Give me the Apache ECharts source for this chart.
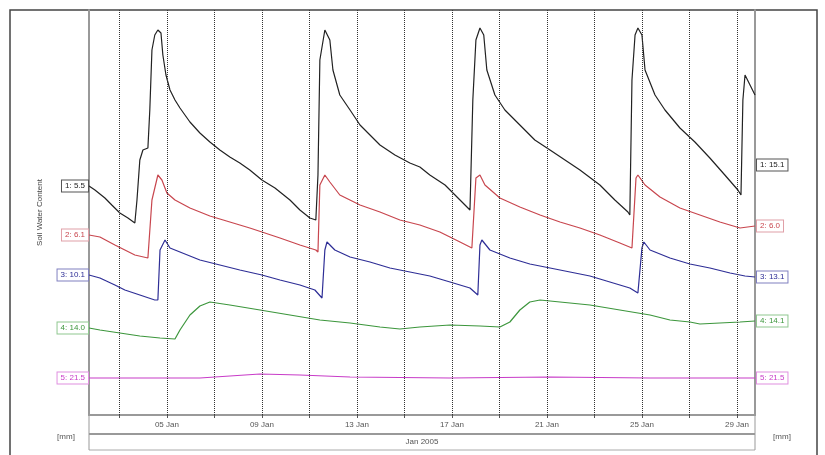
<!DOCTYPE html>
<html><head><meta charset="utf-8">
<script src="https://cdn.jsdelivr.net/npm/echarts@6/dist/echarts.min.js"></script>
<style>html,body{margin:0;padding:0;background:#fff}#c{width:825px;height:455px}</style>
</head><body><div id="c"></div>
<script>
// x = day of January 2005, y = soil water content (relative display units)
const gridDays = [3,5,7,9,11,13,15,17,19,21,23,25,27,29];
const labelDays = [5,9,13,17,21,25,29];
const xMin = 1.72, xMax = 29.76;

const s1 = [[1.72,229],[1.97,225],[2.39,217],[2.68,210],[3.02,202],[3.36,197],[3.65,192],[3.74,215],[3.86,255],[3.99,265],[4.20,267],[4.28,305],[4.37,365],[4.49,380],[4.62,385],[4.75,382],[4.83,360],[4.96,340],[5.13,325],[5.34,315],[5.55,307],[5.97,293],[6.39,282],[6.81,273],[7.23,265],[7.65,258],[8.07,252],[8.49,245],[9.00,235],[9.55,227],[10.18,215],[10.60,205],[11.02,197],[11.27,195],[11.36,240],[11.44,355],[11.65,385],[11.86,375],[11.99,345],[12.28,320],[12.71,305],[13.13,290],[13.55,280],[13.97,270],[14.60,260],[15.23,252],[15.65,248],[16.07,240],[16.71,230],[17.34,215],[17.76,205],[17.84,203],[17.88,315],[18.01,375],[18.18,387],[18.34,380],[18.47,345],[18.81,320],[19.23,305],[19.86,290],[20.49,275],[21.13,265],[21.76,255],[22.39,245],[23.23,230],[23.86,215],[24.41,203],[24.49,200],[24.58,335],[24.71,380],[24.83,387],[25.00,380],[25.13,345],[25.55,320],[25.97,305],[26.60,287],[27.23,273],[27.86,257],[28.49,240],[29.04,225],[29.17,220],[29.25,315],[29.34,340],[29.55,330],[29.76,320]];
const s2 = [[1.72,180],[2.18,178],[2.81,170],[3.23,165],[3.65,160],[4.20,157],[4.28,157],[4.37,215],[4.62,240],[4.79,235],[5.00,222],[5.34,215],[5.97,207],[6.81,199],[7.65,193],[8.49,187],[9.00,183],[9.76,177],[10.60,170],[11.27,165],[11.36,163],[11.44,230],[11.65,240],[11.86,233],[12.28,220],[13.13,210],[13.97,203],[14.81,195],[15.65,190],[16.49,183],[17.34,173],[17.84,167],[18.01,237],[18.18,240],[18.39,230],[19.02,217],[19.86,208],[20.71,200],[21.55,193],[22.39,187],[23.23,180],[24.07,172],[24.58,167],[24.75,237],[24.83,240],[25.13,230],[25.76,218],[26.60,207],[27.44,200],[28.28,193],[29.13,187],[29.76,189]];
const s3 = [[1.72,140],[2.18,137],[2.81,130],[3.23,125],[3.86,120],[4.49,115],[4.62,115],[4.71,165],[4.92,175],[5.13,167],[5.55,163],[6.39,155],[7.23,150],[8.07,145],[9.00,140],[9.76,135],[10.60,130],[11.23,125],[11.53,117],[11.65,165],[11.74,173],[12.07,165],[12.71,158],[13.55,153],[14.39,147],[15.23,143],[16.07,139],[16.92,133],[17.76,127],[18.09,120],[18.18,170],[18.26,175],[18.60,165],[19.44,157],[20.28,151],[21.13,147],[21.97,143],[22.81,139],[23.65,133],[24.49,127],[24.83,122],[25.00,167],[25.08,173],[25.34,165],[26.18,157],[27.02,151],[27.86,147],[28.71,142],[29.34,139],[29.76,138]];
const s4 = [[1.72,87],[2.18,85],[3.02,82],[3.86,79],[4.71,77],[5.34,76],[5.55,85],[5.97,100],[6.39,109],[6.81,113],[7.65,110],[8.92,105],[10.18,100],[11.44,95],[12.71,92],[13.97,88],[14.81,86],[15.65,88],[16.92,90],[18.18,89],[19.02,88],[19.44,93],[19.86,105],[20.28,113],[20.71,115],[21.55,113],[22.81,110],[24.07,105],[25.34,100],[26.18,95],[27.02,93],[27.44,91],[28.28,92],[29.13,93],[29.76,94]];
const s5 = [[1.72,37],[6.39,37],[7.65,39],[8.92,41],[10.60,40],[12.71,38],[16.92,37],[21.13,38],[25.34,37],[29.76,37]];

const seriesData = [s1,s2,s3,s4,s5];
const startLabels = ['1: 5.5','2: 6.1','3: 10.1','4: 14.0','5: 21.5'];
const endLabels = ['1: 15.1','2: 6.0','3: 13.1','4: 14.1','5: 21.5'];
const lineColors = ['#222222','#c8464e','#2e2e96','#3c963c','#c83cc8'];
const boxColors = ['#555555','#e0a0a8','#8080c0','#90c890','#e090e0'];
const endOffsets = [[0,70],[0,0],[0,0],[0,0],[0,0]];

const chart = echarts.init(document.getElementById('c'));

const boxLabel = (i) => ({
  show: true, fontSize: 8, fontFamily: 'Liberation Sans, Arial', color: lineColors[i],
  borderColor: boxColors[i], borderWidth: 1, backgroundColor: '#fff', padding: [2, 3, 1, 3]
});

const series = seriesData.map((d, i) => ({
  type: 'line', data: d, showSymbol: false, symbol: 'none', silent: true,
  lineStyle: { color: lineColors[i], width: 1.2 },
  endLabel: Object.assign(boxLabel(i), { formatter: endLabels[i], distance: 2, offset: endOffsets[i] }),
  markPoint: {
    symbol: 'circle', symbolSize: 0, silent: true,
    data: [{ coord: d[0] }],
    label: Object.assign(boxLabel(i), { position: 'left', distance: 1, formatter: startLabels[i] })
  },
  markLine: i === 4 ? {
    symbol: 'none', silent: true, label: { show: false },
    lineStyle: { type: 'dotted', color: '#333', width: 1 },
    data: gridDays.map(v => ({ xAxis: v }))
  } : undefined,
  z: 3
}));

chart.setOption({
  animation: false,
  backgroundColor: '#fff',
  grid: { left: 89, right: 70, top: 10, bottom: 40 },
  xAxis: {
    type: 'value', min: xMin, max: xMax,
    axisLine: { show: true, lineStyle: { color: '#999', width: 2 } },
    axisTick: { show: true, customValues: gridDays, length: 3, inside: false, lineStyle: { color: '#555' } },
    axisLabel: {
      customValues: labelDays, fontSize: 8, color: '#555', margin: 6,
      fontFamily: 'Liberation Sans, Arial',
      formatter: v => (v < 10 ? '0' : '') + Math.round(v) + ' Jan'
    },
    splitLine: { show: false }
  },
  yAxis: [{
    type: 'value', min: 0, max: 405, position: 'left',
    name: 'Soil Water Content', nameLocation: 'middle', nameGap: 45,
    nameTextStyle: { fontSize: 8, color: '#444', fontFamily: 'Liberation Sans, Arial' },
    axisLine: { show: true, lineStyle: { color: '#999', width: 2 } },
    axisTick: { show: false }, axisLabel: { show: false }, splitLine: { show: false }
  }, {
    type: 'value', min: 0, max: 405, position: 'right',
    axisLine: { show: true, lineStyle: { color: '#999', width: 2 } },
    axisTick: { show: false }, axisLabel: { show: false }, splitLine: { show: false }
  }],
  graphic: [
    { type: 'rect', shape: { x: 10, y: 10, width: 807, height: 470 }, style: { fill: 'none', stroke: '#444', lineWidth: 1.5 }, silent: true },
    { type: 'line', shape: { x1: 89, y1: 434, x2: 755, y2: 434 }, style: { stroke: '#999', lineWidth: 2 }, silent: true },
    { type: 'line', shape: { x1: 89, y1: 450, x2: 755, y2: 450 }, style: { stroke: '#aaa', lineWidth: 1 }, silent: true },
    { type: 'line', shape: { x1: 89, y1: 415, x2: 89, y2: 450 }, style: { stroke: '#999', lineWidth: 1 }, silent: true },
    { type: 'line', shape: { x1: 755, y1: 415, x2: 755, y2: 450 }, style: { stroke: '#999', lineWidth: 1 }, silent: true },
    { type: 'text', x: 422, y: 442, style: { text: 'Jan 2005', fontSize: 8, fill: '#555', align: 'center', verticalAlign: 'middle', fontFamily: 'Liberation Sans, Arial' }, silent: true },
    { type: 'text', x: 66, y: 437, style: { text: '[mm]', fontSize: 8, fill: '#555', align: 'center', verticalAlign: 'middle', fontFamily: 'Liberation Sans, Arial' }, silent: true },
    { type: 'text', x: 782, y: 437, style: { text: '[mm]', fontSize: 8, fill: '#555', align: 'center', verticalAlign: 'middle', fontFamily: 'Liberation Sans, Arial' }, silent: true }
  ],
  series: series
});
</script>
</body></html>
